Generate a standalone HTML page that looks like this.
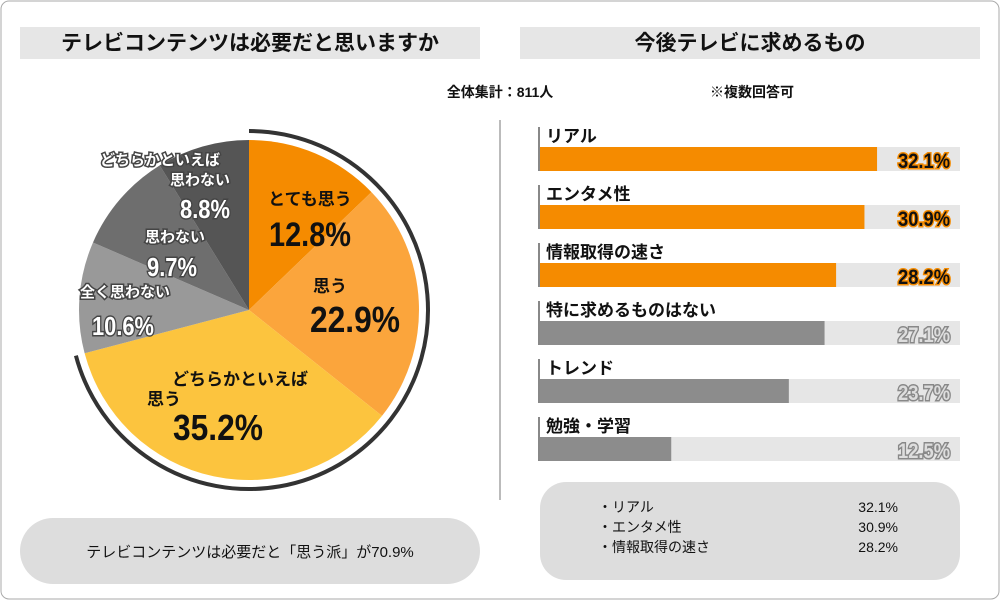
<!DOCTYPE html>
<html><head><meta charset="utf-8"><style>
body{margin:0;width:1000px;height:600px;overflow:hidden;background:#fff;font-family:"Liberation Sans","Noto Sans CJK JP",sans-serif;}
svg text{font-family:"Liberation Sans","Noto Sans CJK JP",sans-serif;}
</style></head><body>
<svg id="c" width="1000" height="600" xmlns="http://www.w3.org/2000/svg">
<rect x="1" y="1" width="998" height="598" rx="8" fill="#fff" stroke="#aaa"/>
<rect x="20" y="27" width="460" height="32" fill="#e6e6e6"/>
<text x="250" y="50" text-anchor="middle" font-size="21" font-weight="bold" fill="#111">テレビコンテンツは必要だと思いますか</text>
<rect x="520" y="27" width="460" height="32" fill="#e6e6e6"/>
<text x="750" y="50" text-anchor="middle" font-size="21" font-weight="bold" fill="#111">今後テレビに求めるもの</text>
<text x="500" y="97" text-anchor="middle" font-size="14" font-weight="bold" fill="#111">全体集計：811人</text>
<text x="752" y="97" text-anchor="middle" font-size="14" font-weight="bold" fill="#111">※複数回答可</text>
<line x1="500" y1="120" x2="500" y2="500" stroke="#bbb" stroke-width="2"/>
<g id="pie"></g>
<g id="bars"></g>
<rect x="20" y="518" width="460" height="66" rx="33" fill="#ddd"/>
<text x="250" y="557" text-anchor="middle" font-size="15" fill="#111">テレビコンテンツは必要だと「思う派」が70.9%</text>
<rect x="540" y="482" width="420" height="98" rx="26" fill="#ddd"/>
<g id="sum"></g>
</svg>
<script>
const pieLabels=["とても思う","思う","どちらかといえば思う","全く思わない","思わない","どちらかといえば思わない"];
const pieValues=[12.8,22.9,35.2,10.6,9.7,8.8];
const barLabels=["リアル","エンタメ性","情報取得の速さ","特に求めるものはない","トレンド","勉強・学習"];
const barValues=[32.1,30.9,28.2,27.1,23.7,12.5];
const NS="http://www.w3.org/2000/svg";
function mk(t,a,p){const e=document.createElementNS(NS,t);for(const k in a)e.setAttribute(k,a[k]);p.appendChild(e);return e;}
const cx=249,cy=310,R=170;
const cols=["#f58b00","#fba53c","#fcc43e","#999999","#6e6e6e","#555555"];
const pt=(a,r)=>[cx+r*Math.sin(a),cy-r*Math.cos(a)];
const pie=document.getElementById('pie');
const tot=pieValues.reduce((s,v)=>s+v,0);
let a0=0;
pieValues.forEach((v,i)=>{const a1=a0+v/tot*2*Math.PI;const p0=pt(a0,R),p1=pt(a1,R);
const s=mk('path',{d:`M${cx},${cy}L${p0[0]},${p0[1]}A${R},${R} 0 ${a1-a0>Math.PI?1:0} 1 ${p1[0]},${p1[1]}Z`,fill:cols[i]},pie);


a0=a1;});
const pos=(pieValues[0]+pieValues[1]+pieValues[2])/tot*2*Math.PI;
const q0=pt(0,179),q1=pt(pos,179);
const arc=mk('path',{d:`M${q0[0]},${q0[1]}A179,179 0 ${pos>Math.PI?1:0} 1 ${q1[0]},${q1[1]}`,fill:"none",stroke:"#333","stroke-width":4},pie);


const lab=[[{t:"とても思う",x:310,y:205,s:17}],[{t:"思う",x:330,y:292,s:17}],[{t:"どちらかといえば",x:240,y:385,s:17},{t:"思う",x:164,y:405,s:17}],[{t:"全く思わない",x:125,y:297,s:15}],[{t:"思わない",x:175,y:242,s:15}],[{t:"どちらかといえば",x:160,y:165,s:15},{t:"思わない",x:200,y:185,s:15}]];
const pct=[[310,246,34,82],[355,332,36,90],[218,440,36,90],[123,335,26,62],[172,276,26,50],[205,218,26,50]];
pieValues.forEach((v,i)=>{const dark=i<3;
lab[i].forEach(l=>{const t=mk('text',{x:l.x,y:l.y,"text-anchor":"middle","font-size":l.s,"font-weight":"bold",fill:dark?"#111":"#fff",stroke:dark?"none":"#444","stroke-width":3,"paint-order":"stroke"},pie);t.textContent=l.t;

});
const t=mk('text',{x:pct[i][0],y:pct[i][1],"text-anchor":"middle","font-size":pct[i][2],"font-weight":"bold",fill:dark?"#111":"#fff",stroke:dark?"none":"#444","stroke-width":3,"paint-order":"stroke",textLength:pct[i][3],lengthAdjust:"spacingAndGlyphs"},pie);
t.textContent=v.toFixed(1)+"%";

});
const bars=document.getElementById('bars');
const x0=540,sc=10.5,bw=420;
barValues.forEach((v,i)=>{const top=125+i*58,by=top+22;const hi=i<3;
const l=mk('line',{x1:539,y1:top+2,x2:539,y2:by+24,stroke:"#888","stroke-width":2},bars);

const tr=mk('rect',{x:x0,y:by,width:bw,height:24,fill:"#e6e6e6"},bars);

const b=mk('rect',{x:x0,y:by,width:v*sc,height:24,fill:hi?"#f58b00":"#8c8c8c"},bars);

const t=mk('text',{x:546,y:top+17,"font-size":17,"font-weight":"bold",fill:"#111"},bars);t.textContent=barLabels[i];

const vt=mk('text',{x:950,y:by+21,"text-anchor":"end","font-size":21,"font-weight":"bold",fill:hi?"#111":"#ddd",stroke:hi?"#f58b00":"#888","stroke-width":3,"paint-order":"stroke",textLength:52,lengthAdjust:"spacingAndGlyphs"},bars);
vt.textContent=v.toFixed(1)+"%";
});
const sum=document.getElementById('sum');
for(let i=0;i<3;i++){const y=512+i*20;
const a=mk('text',{x:598,y:y,"font-size":14,fill:"#111"},sum);a.textContent="・"+barLabels[i];

const b=mk('text',{x:898,y:y,"text-anchor":"end","font-size":14,fill:"#111"},sum);b.textContent=barValues[i].toFixed(1)+"%";
}
</script>
</body></html>
